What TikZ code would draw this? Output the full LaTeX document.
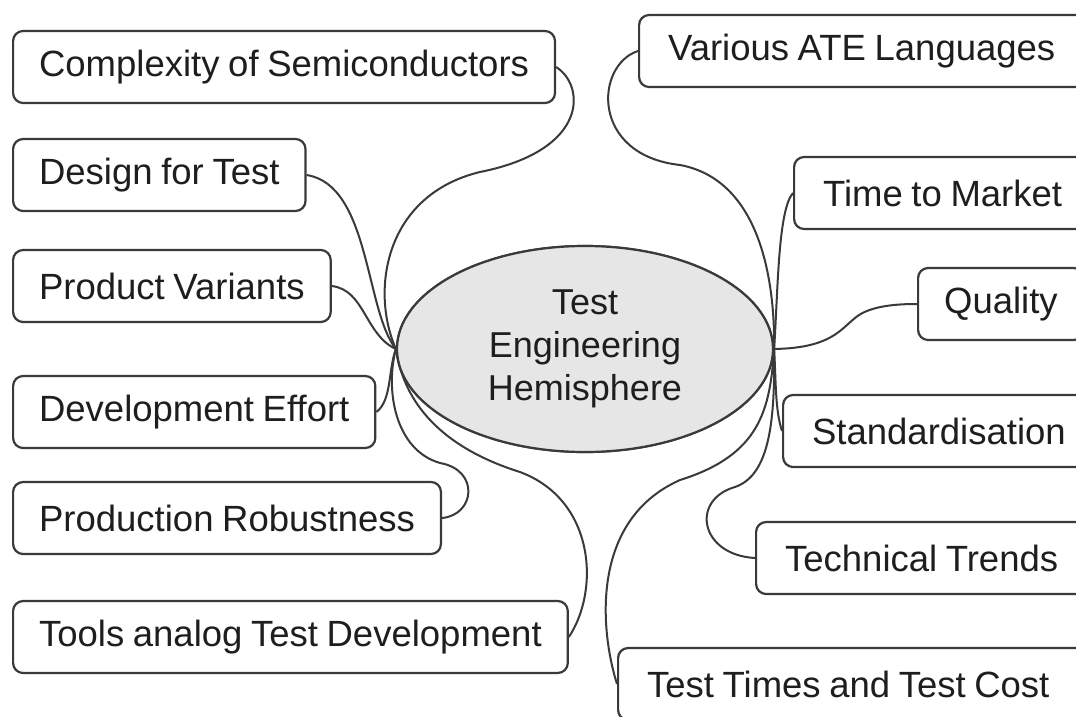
\documentclass[tikz,border=0pt]{standalone}
\usepackage{fontspec}
\setmainfont{Liberation Sans}[WordSpace=0.85]
\usetikzlibrary{shapes.geometric}
\definecolor{linec}{HTML}{3A3A3A}
\definecolor{textc}{HTML}{1E1E1E}
\definecolor{ellfill}{HTML}{E6E6E6}
\newcommand\leftpad[2]{\makebox[#1][l]{#2}}
\begin{document}
\begin{tikzpicture}[x=1pt,y=-1pt,
  topic/.style={draw=linec,line width=2.2pt,rounded corners=10pt,fill=white,
    minimum height=72pt,inner xsep=26pt,inner ysep=0pt,anchor=west,text=textc,
    font=\fontsize{36.5}{42}\selectfont},
  cuttopic/.style={topic,inner xsep=29pt},
  link/.style={draw=linec,line width=2pt},
  hub/.style={ellipse,draw=linec,line width=2.2pt,fill=ellfill,minimum width=376pt,
    minimum height=206pt,inner sep=0pt,align=center,text=textc,
    font=\fontsize{36}{43}\selectfont}]
\useasboundingbox (0,0) rectangle (1076,717);
\clip (0,0) rectangle (1076,717);
\fill[white] (0,0) rectangle (1076,717);

% left topics
\node[topic] (L1) at (12,67) {Complexity of Semiconductors};
\node[topic] (L2) at (12,175) {Design for Test};
\node[topic] (L3) at (12,286) {Product Variants};
\node[topic] (L4) at (12,412) {Development Effort};
\node[topic] (L5) at (12,518) {Production Robustness};
\node[topic] (L6) at (12,637) {Tools analog Test Development};

% right topics
\node[cuttopic] (R1) at (638,51) {\leftpad{420pt}{Various ATE Languages}};
\node[cuttopic] (R2) at (793,193) {\leftpad{260pt}{Time to Market}};
\node[topic] (R3) at (917,304) {Quality};
\node[cuttopic] (R4) at (782,431) {\leftpad{270pt}{Standardisation}};
\node[cuttopic] (R5) at (755,558) {\leftpad{300pt}{Technical Trends}};
\node[cuttopic] (R6) at (617,684) {\leftpad{440pt}{Test Times and Test Cost}};

% centre
\coordinate (c) at (585,349);
\node[hub] (E) at (c) {Test\\Engineering\\Hemisphere};

% connectors left
\draw[link] (L1.east) .. controls (585,85) and (590,150) .. (480,172)
  .. controls (385,195) and (370,290) .. (E.west);
\draw[link] (L2.east) .. controls (370,185) and (365,310) .. (E.west);
\draw[link] (L3.east) .. controls (365,290) and (365,335) .. (E.west);
\draw[link] (L4.east) .. controls (392,400) and (388,370) .. (E.west);
\draw[link] (L5.east) .. controls (475,515) and (480,470) .. (440,463)
  .. controls (395,450) and (385,390) .. (E.west);
\draw[link] (L6.east) .. controls (600,590) and (595,500) .. (520,472)
  .. controls (450,450) and (405,410) .. (E.west);

% connectors right
\draw[link] (R1.west) .. controls (595,65) and (590,155) .. (680,165)
  .. controls (760,180) and (775,280) .. (E.east);
\draw[link] (R2.west) .. controls (778,210) and (778,290) .. (E.east);
\draw[link] (E.east) .. controls (830,348) and (840,330) .. (855,318)
  .. controls (870,305) and (900,304) .. (R3.west);
\draw[link] (R4.west) .. controls (775,410) and (776,380) .. (E.east);
\draw[link] (R5.west) .. controls (700,555) and (690,500) .. (735,487)
  .. controls (770,475) and (775,420) .. (E.east);
\draw[link] (R6.west) .. controls (600,630) and (590,520) .. (680,480)
  .. controls (760,455) and (770,410) .. (E.east);

% redraw centre on top
\node[hub] at (c) {Test\\Engineering\\Hemisphere};
\end{tikzpicture}
\end{document}
